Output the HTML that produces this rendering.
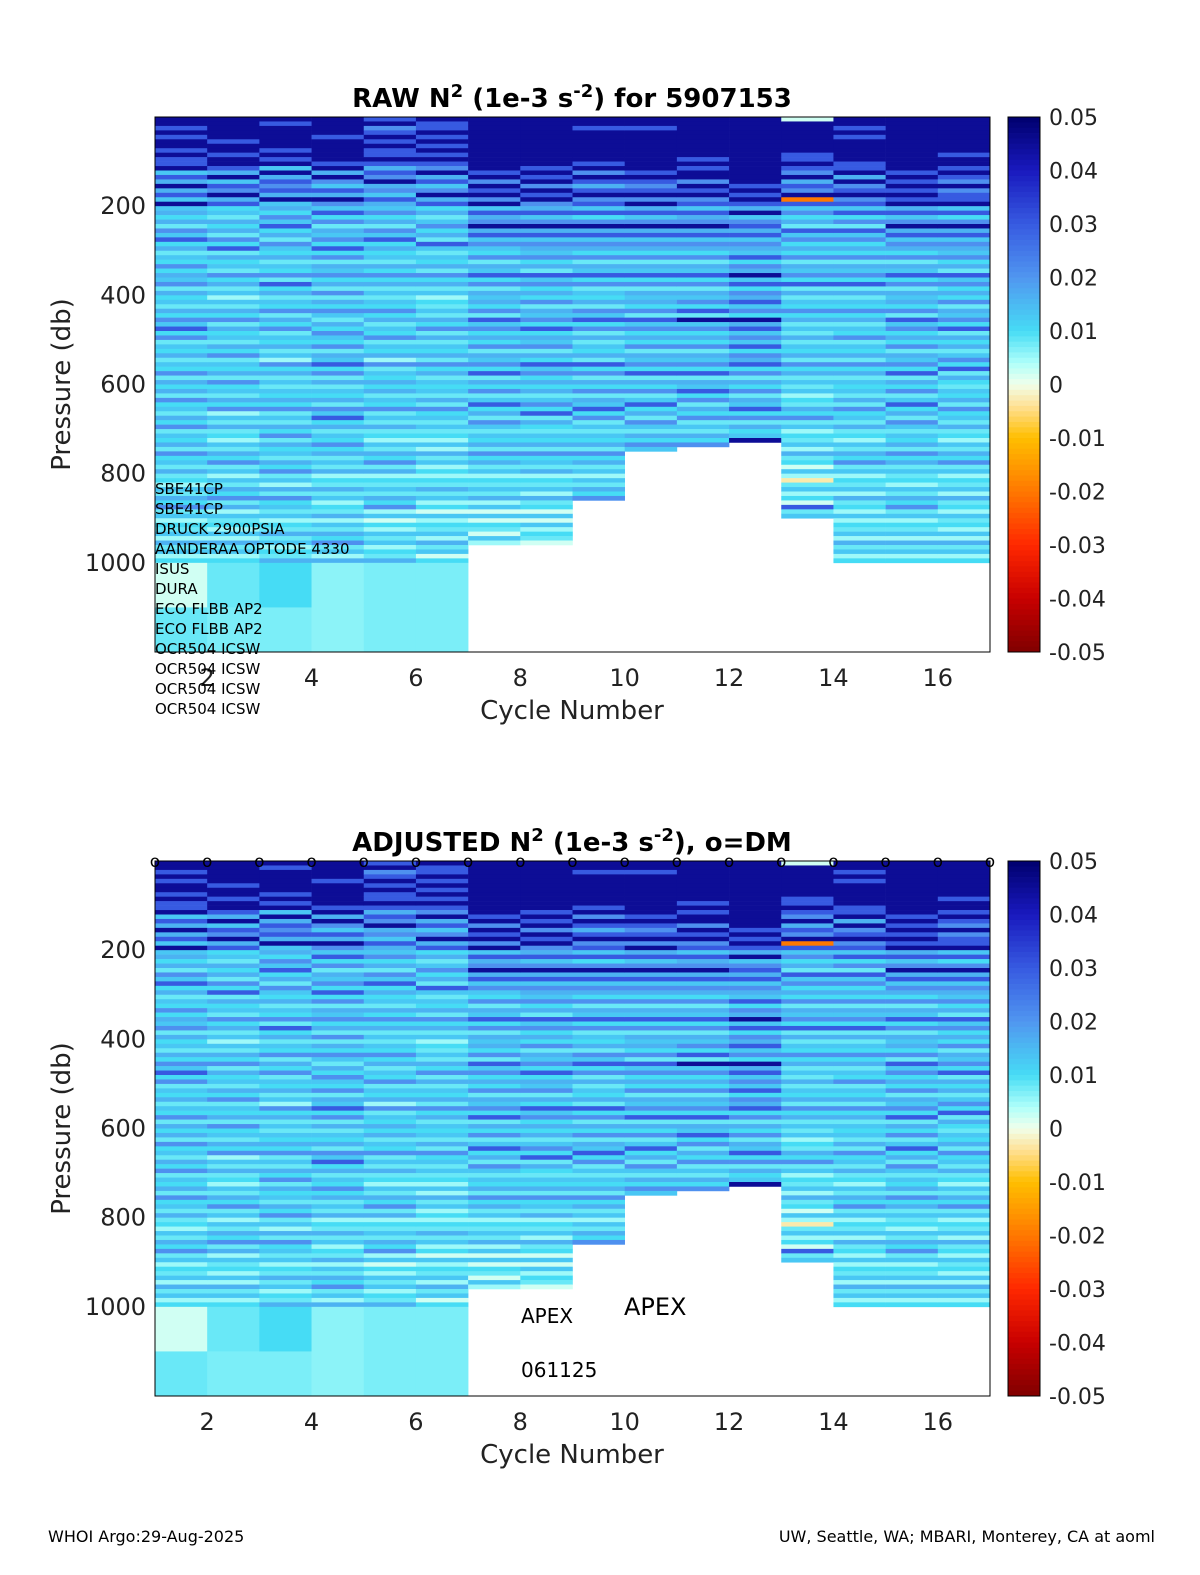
<!DOCTYPE html>
<html><head><meta charset="utf-8">
<style>
body{margin:0;background:#fff;}
svg{display:block;font-family:"DejaVu Sans","Liberation Sans",sans-serif;}
</style></head>
<body>
<svg id="fig" width="1200" height="1575" viewBox="0 0 1200 1575" xmlns="http://www.w3.org/2000/svg">
<rect width="1200" height="1575" fill="#fff"/>
<g id="p1"></g>
<g id="p2"></g>
<text x="48" y="1542" font-size="16">WHOI Argo:29-Aug-2025</text>
<text x="1155" y="1542" font-size="16" text-anchor="end">UW, Seattle, WA; MBARI, Monterey, CA at aoml</text>
</svg>
<script>
// ---- data ----
const cycles = [1,2,3,4,5,6,7,8,9,10,11,12,13,14,15,16];
const profiles = [
"9989899898895869685956463758463547465736453647584735463547364637453647354637453634253647352435263524",
"9999989989986958796845364637483645374635253647364536473546374536472536342536473525364736253425263524",
"9899999898959687869564758463754635473846354736473546352746353546473536473645364735263745352436352436",
"9999899999896975869758473657484736574637364753647547365847363546375846354746353624363524362536473526",
"8978989889868796758657463758464536474635354746354735462735464635473536342536473624353647251425352436",
"9889898989879685796846357463853546374635243536473635463746354536374535342526352424363524152435263514",
"999999999999897989795867968575473658473656473857464736574836473584637535463746352435362515143152",
"999999999998989798976857968576574638574647365748465736485746463574836435463745362435263415152431",
"99899999998979868978584796857647365847354637584736354638473647365847353546374635253647",
"998999999999898789796857968576473658473656473857464736574836473584637536475",
"99999999989899798978586796857647365847365748395746473657483658473647353647",
"9999999999999998989869578685765847695847685749685758476847364736584736459",
"199999998898796879r85746385746473657483635474635363546374635352436473524352634152035241835",
"9989899999889697897858473857464736574836354746354735463746354536374536342536473524352634252435263524",
"9999999999998989898968579685764736584736564738574647365748364735846375354637463534253647352435263524",
"9999999989989879788958479685765746385746473657483646357483643546374536342536473524352634253425263524"
];
const deepA = [0.002,0.008,0.010,0.006,0.007,0.007];
const deepB = [0.008,0.007,0.007,0.006,0.007,0.007];
const levels = {"0":-0.003,"1":0.002,"2":0.005,"3":0.008,"4":0.010,"5":0.013,"6":0.016,"7":0.021,"8":0.03,"9":0.045,"r":-0.02};
const xTicks = [2,4,6,8,10,12,14,16];
const yTicks = [200,400,600,800,1000];
const cbTicks = [0.05,0.04,0.03,0.02,0.01,0,-0.01,-0.02,-0.03,-0.04,-0.05];
const sensors = ["SBE41CP","SBE41CP","DRUCK 2900PSIA","AANDERAA OPTODE 4330","ISUS","DURA","ECO FLBB AP2","ECO FLBB AP2","OCR504 ICSW","OCR504 ICSW","OCR504 ICSW","OCR504 ICSW"];
const BIN = 10;

// ---- colormap ----
const stops = [[-0.05,[128,0,0]],[-0.04,[200,0,0]],[-0.03,[255,40,0]],[-0.02,[255,120,0]],[-0.01,[255,190,0]],[-0.004,[255,225,150]],[0,[240,255,235]],[0.004,[175,255,250]],[0.01,[70,220,245]],[0.02,[80,150,240]],[0.03,[55,90,225]],[0.04,[25,25,190]],[0.05,[0,0,110]]];
function cmap(v){
  v=Math.max(-0.05,Math.min(0.05,v));
  for(let i=0;i<stops.length-1;i++){
    const [a,ca]=stops[i],[b,cb]=stops[i+1];
    if(v<=b){const t=(v-a)/(b-a);
      return `rgb(${ca.map((c,k)=>Math.round(c+(cb[k]-c)*t)).join(',')})`;}
  }
  return 'rgb(0,0,110)';
}
const NS="http://www.w3.org/2000/svg";
function mk(tag,attrs,parent){const e=document.createElementNS(NS,tag);for(const k in attrs)e.setAttribute(k,attrs[k]);parent.appendChild(e);return e;}

function panel(g,top,title,dm){
  const L=155,R=990,T=top,B=top+535;
  const xs=v=>L+(v-1)*(R-L)/16;
  const ys=p=>T+p*(B-T)/1200;
  cycles.forEach((c,i)=>{
    const s=profiles[i];
    for(let j=0;j<s.length;j++){
      const r=mk('rect',{x:xs(c),y:ys(j*BIN),width:xs(c+1)-xs(c)+0.3,height:ys(BIN)-ys(0)+0.3,fill:cmap(levels[s[j]])},g);
      
      
    }
    if(i<6){
      const a=mk('rect',{x:xs(c),y:ys(1000),width:xs(c+1)-xs(c)+0.3,height:ys(100)-ys(0)+0.3,fill:cmap(deepA[i])},g);
      
      
      const b=mk('rect',{x:xs(c),y:ys(1100),width:xs(c+1)-xs(c)+0.3,height:ys(100)-ys(0),fill:cmap(deepB[i])},g);
      
      
    }
  });
  const box=mk('rect',{x:L,y:T,width:R-L,height:B-T,fill:'none',stroke:'#000','stroke-width':1},g);
  
  
  xTicks.forEach(t=>{
    const tx=mk('text',{x:xs(t),y:B+34,'font-size':24,'text-anchor':'middle',fill:'#222'},g);tx.textContent=t;
    
    
  });
  yTicks.forEach(t=>{
    const ty=mk('text',{x:L-9,y:ys(t)+8,'font-size':24,'text-anchor':'end',fill:'#222'},g);ty.textContent=t;
    
    
  });
  const xl=mk('text',{x:572,y:B+67,'font-size':26,'text-anchor':'middle',fill:'#222'},g);xl.textContent='Cycle Number';
  
  
  const yl=mk('text',{x:0,y:0,'font-size':26,'text-anchor':'middle',fill:'#222',transform:`translate(70,${(T+B)/2}) rotate(-90)`},g);yl.textContent='Pressure (db)';
  
  
  const ti=mk('text',{x:572,y:T-10,'font-size':26,'font-weight':'bold','text-anchor':'middle'},g);
  
  
  ti.innerHTML=title;
  const CL=1008,CW=32;
  for(let k=0;k<100;k++){
    const v=0.05-(k+0.5)*0.001;
    const cr=mk('rect',{x:CL,y:T+k*(B-T)/100,width:CW,height:(B-T)/100+0.4,fill:cmap(v)},g);
    
    
  }
  const cbb=mk('rect',{x:CL,y:T,width:CW,height:B-T,fill:'none',stroke:'#000'},g);
  
  
  cbTicks.forEach(v=>{
    const yy=T+(0.05-v)/0.1*(B-T);
    const ct=mk('text',{x:1049,y:yy+8,'font-size':22,fill:'#222'},g);ct.textContent=(v===0?'0':v.toString());
    
    
  });
  if(dm){
    for(let c=1;c<=17;c++){
      const o=mk('text',{x:xs(c),y:T+6,'font-size':17,'text-anchor':'middle'},g);o.textContent='o';
      
      
    }
  }
}
panel(document.getElementById('p1'),117,'RAW N<tspan dy="-10" font-size="18">2</tspan><tspan dy="10"> (1e-3 s</tspan><tspan dy="-10" font-size="18">-2</tspan><tspan dy="10">) for 5907153</tspan>',false);
panel(document.getElementById('p2'),861,'ADJUSTED N<tspan dy="-10" font-size="18">2</tspan><tspan dy="10"> (1e-3 s</tspan><tspan dy="-10" font-size="18">-2</tspan><tspan dy="10">), o=DM</tspan>',true);
const p1=document.getElementById('p1');
sensors.forEach((s,i)=>{
  const t=mk('text',{x:155,y:494+i*20,'font-size':15},p1);t.textContent=s;
  
  
});
const p2=document.getElementById('p2');
[[521,1323,20,'APEX'],[624,1315,24,'APEX'],[521,1377,20,'061125']].forEach(a=>{
  const t=mk('text',{x:a[0],y:a[1],'font-size':a[2]},p2);t.textContent=a[3];
  
  
});
</script>
</body></html>
